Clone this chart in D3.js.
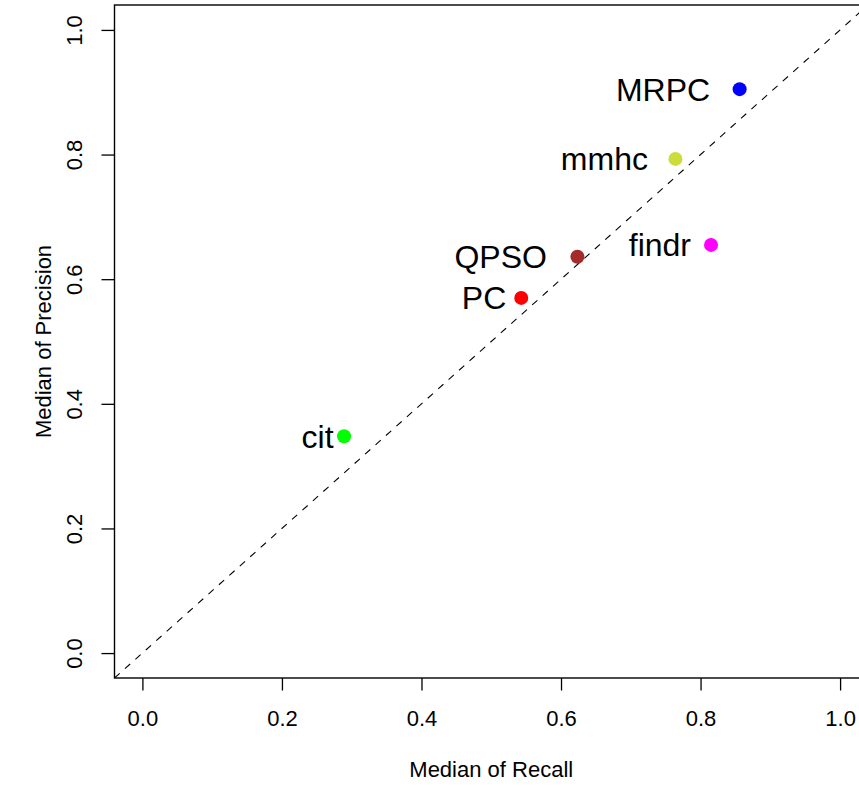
<!DOCTYPE html>
<html>
<head>
<meta charset="utf-8">
<script src="https://cdn.jsdelivr.net/npm/d3@7"></script>
<style>
  body { margin: 0; background: #fff; }
  svg { display: block; font-family: "Liberation Sans", Arial, sans-serif; }
</style>
</head>
<body>
<svg id="chart"></svg>
<script>
// methods and their median recall / precision
const methods = ["MRPC", "mmhc", "findr", "QPSO", "PC", "cit"];
const recall = [0.856, 0.764, 0.815, 0.6235, 0.543, 0.289];
const precision = [0.905, 0.793, 0.655, 0.636, 0.570, 0.348];
const colors = ["#0000FF", "#CCDD3A", "#FF00FF", "#A52A2A", "#FF0000", "#00FF00"];
const labelGap = [29.5, 27.5, 20, 30.5, 15, 10.5];
const ticks = [0, 0.2, 0.4, 0.6, 0.8, 1.0];

const width = 859;
const height = 788;
const box = { left: 114.5, right: 868, top: 5, bottom: 678 };

const svg = d3.select("#chart").attr("width", width).attr("height", height);

const x = d3.scaleLinear().domain([-0.04, 1.04]).range([box.left, box.right]);
const y = d3.scaleLinear().domain([-0.04, 1.04]).range([box.bottom, box.top]);

// diagonal y = x, clipped to the plot box
svg.append("clipPath").attr("id", "plotclip")
  .append("rect")
  .attr("x", box.left).attr("y", box.top)
  .attr("width", box.right - box.left).attr("height", box.bottom - box.top);

svg.append("line")
  .attr("clip-path", "url(#plotclip)")
  .attr("x1", x(-0.04)).attr("y1", y(-0.04))
  .attr("x2", x(1.04)).attr("y2", y(1.04))
  .attr("stroke", "#000")
  .attr("stroke-width", 1.1)
  .attr("stroke-dasharray", "7,7");

// axes
const xAxis = d3.axisBottom(x).tickValues(ticks).tickFormat(d3.format(".1f"))
  .tickSize(12.5).tickSizeOuter(0);
const yAxis = d3.axisLeft(y).tickValues(ticks).tickFormat(d3.format(".1f"))
  .tickSize(13).tickSizeOuter(0);

const gx = svg.append("g")
  .attr("transform", `translate(0,${box.bottom})`)
  .call(xAxis);
gx.select(".domain").remove();
gx.selectAll("line").attr("stroke", "#000").attr("stroke-width", 1.3);
gx.selectAll("text")
  .attr("y", 48).attr("dy", null)
  .attr("fill", "#000")
  .style("font-size", "22px")
  .style("font-family", "'Liberation Sans', Arial, sans-serif");

const gy = svg.append("g")
  .attr("transform", `translate(${box.left},0)`)
  .call(yAxis);
gy.select(".domain").remove();
gy.selectAll("line").attr("stroke", "#000").attr("stroke-width", 1.3);
gy.selectAll("text")
  .attr("transform", "rotate(-90)")
  .attr("x", 0).attr("y", -32.5).attr("dy", null)
  .attr("text-anchor", "middle")
  .attr("fill", "#000")
  .style("font-size", "22px")
  .style("font-family", "'Liberation Sans', Arial, sans-serif");

// plot box (right edge falls outside the picture)
svg.append("rect")
  .attr("x", box.left).attr("y", box.top)
  .attr("width", box.right - box.left).attr("height", box.bottom - box.top)
  .attr("fill", "none")
  .attr("stroke", "#000")
  .attr("stroke-width", 1.4);

// axis titles
svg.append("text")
  .attr("x", (box.left + box.right) / 2)
  .attr("y", 776.5)
  .attr("text-anchor", "middle")
  .style("font-size", "22px")
  .text("Median of Recall");

svg.append("text")
  .attr("transform", `translate(51,${(box.top + box.bottom) / 2}) rotate(-90)`)
  .attr("text-anchor", "middle")
  .style("font-size", "22px")
  .text("Median of Precision");

// points and labels
const data = methods.map((m, i) => ({
  name: m, r: recall[i], p: precision[i], color: colors[i], gap: labelGap[i]
}));

svg.selectAll(".pt")
  .data(data)
  .enter()
  .append("circle")
  .attr("class", "pt")
  .attr("cx", (d) => x(d.r))
  .attr("cy", (d) => y(d.p))
  .attr("r", 7)
  .attr("fill", (d) => d.color);

svg.selectAll(".lab")
  .data(data)
  .enter()
  .append("text")
  .attr("class", "lab")
  .attr("x", (d) => x(d.r) - d.gap)
  .attr("y", (d) => y(d.p) + 11.5)
  .attr("text-anchor", "end")
  .style("font-size", "32px")
  .text((d) => d.name);
</script>
</body>
</html>
